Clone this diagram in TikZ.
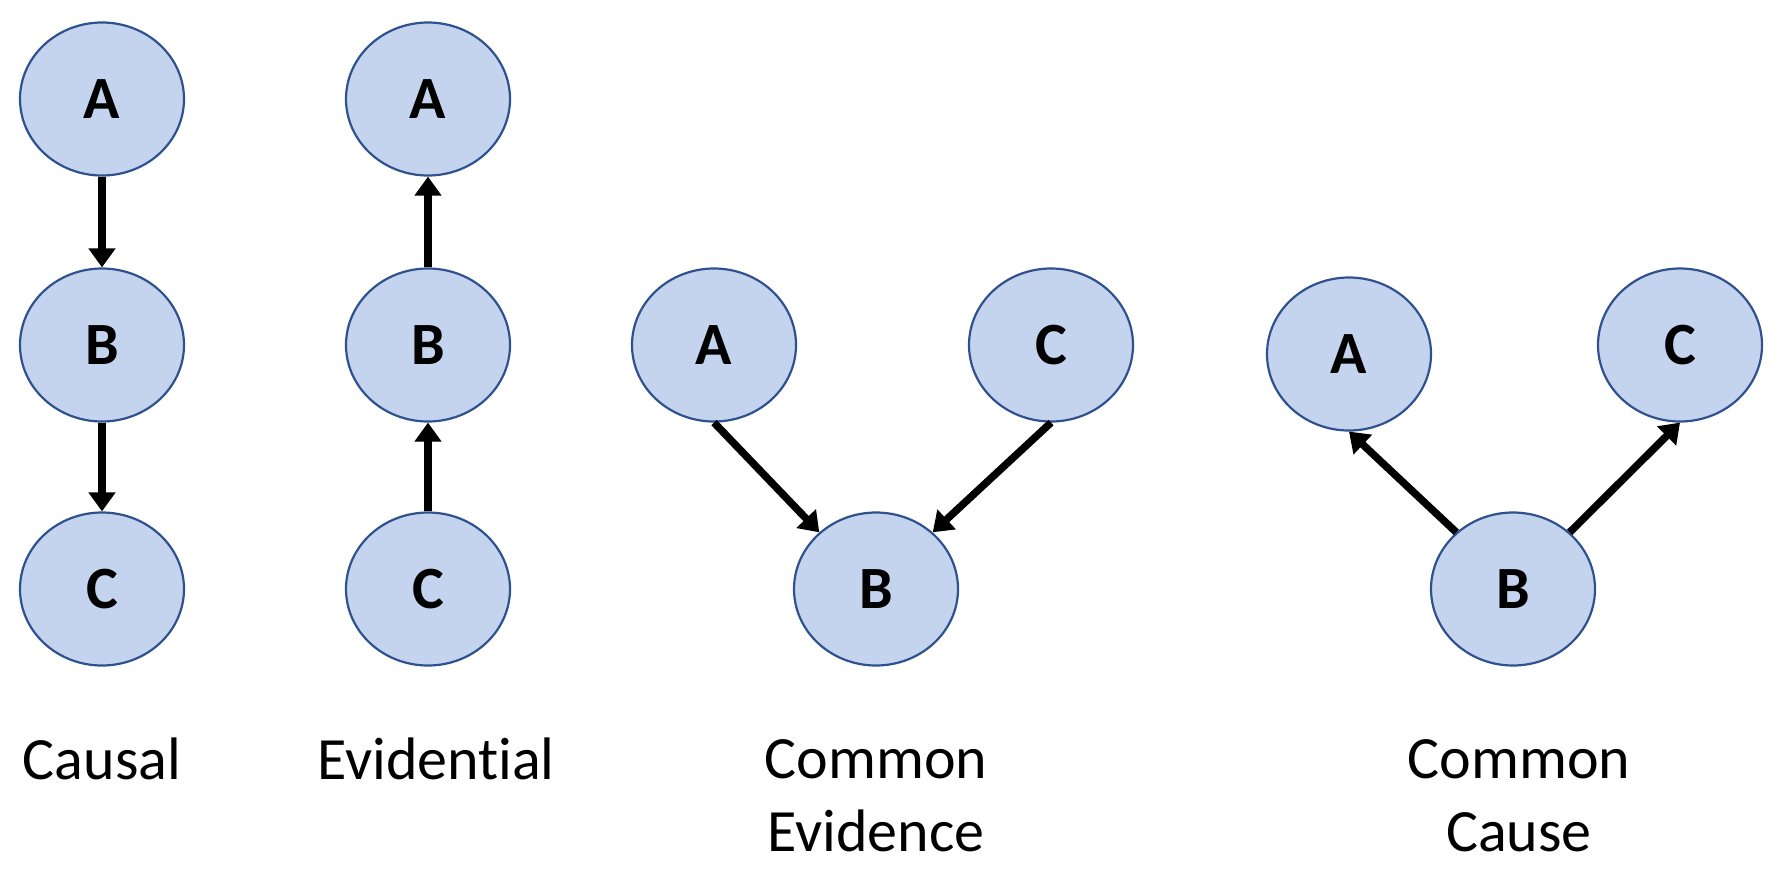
\documentclass[tikz,border=0pt]{standalone}
\usepackage{fontspec}
\setmainfont{Carlito}[Ligatures=NoCommon]
\usetikzlibrary{arrows.meta,shapes.geometric}
\definecolor{nodefill}{HTML}{C5D4EE}
\definecolor{nodeline}{HTML}{2F528F}
\begin{document}
\begin{tikzpicture}[x=1pt,y=-1pt,
  var/.style={ellipse,draw=nodeline,fill=nodefill,line width=2.2pt,minimum width=164pt,minimum height=153pt,inner sep=0pt,font=\fontsize{60}{64}\selectfont\bfseries},
  edge/.style={line width=7.5pt,-{Triangle[length=19pt,width=26pt]}},
  lab/.style={font=\fontsize{60}{73}\selectfont,align=center}]
\useasboundingbox (0,0) rectangle (1777,879);
% Causal
\node[var] (a1) at (102,99) {A};
\node[var] (b1) at (102,345) {B};
\node[var] (c1) at (102,589) {C};
\draw[edge] (a1) -- (b1);
\draw[edge] (b1) -- (c1);
\node[lab] (l1) at (102,759) {Causal};
% Evidential
\node[var] (a2) at (428,99) {A};
\node[var] (b2) at (428,345) {B};
\node[var] (c2) at (428,589) {C};
\draw[edge] (b2) -- (a2);
\draw[edge] (c2) -- (b2);
\node[lab] (l2) at (436,759) {Evidential};
% Common evidence
\node[var] (a3) at (714,345) {A};
\node[var] (c3) at (1051,345) {C};
\node[var] (b3) at (876,589) {B};
\draw[edge] (a3.south) -- (b3.135);
\draw[edge] (c3.south) -- (b3.45);
\node[lab] (l3) at (876,796) {Common\\Evidence};
% Common cause
\node[var] (a4) at (1349,354) {A};
\node[var] (c4) at (1680,345) {C};
\node[var] (b4) at (1513,589) {B};
\draw[edge] (b4.135) -- (a4.south);
\draw[edge] (b4.45) -- (c4.south);
\node[lab] (l4) at (1519,796) {Common\\Cause};
\end{tikzpicture}
\end{document}
